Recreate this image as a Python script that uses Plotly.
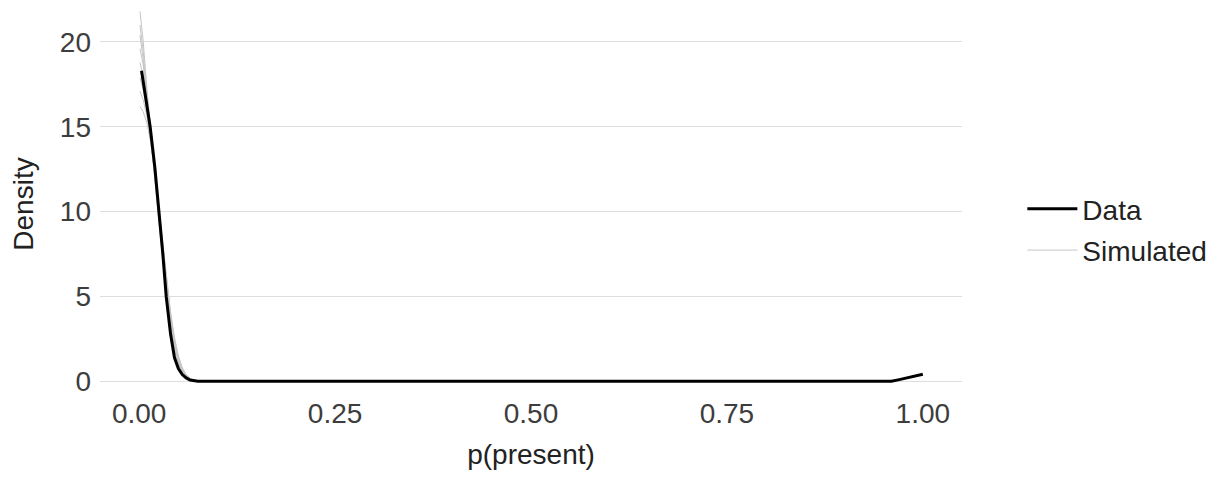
import plotly.graph_objects as go

# Observed data density
data_x = [0.003, 0.008, 0.014, 0.02, 0.0256, 0.03, 0.0345, 0.04, 0.045, 0.05, 0.055, 0.06,
          0.065, 0.07, 0.075, 0.08, 0.2, 0.4, 0.6, 0.8, 0.96, 0.97, 0.98, 0.99, 1.0]
data_y = [18.3, 16.8, 15.0, 12.6, 10.0, 7.6, 5.0, 2.8, 1.4, 0.75, 0.4, 0.2,
          0.08, 0.03, 0.01, 0.0, 0.0, 0.0, 0.0, 0.0, 0.0, 0.1, 0.22, 0.33, 0.42]

# Simulated densities
sim_x = [0.001, 0.005, 0.01, 0.015, 0.02, 0.025, 0.03, 0.035, 0.04, 0.045, 0.05, 0.055,
         0.06, 0.065, 0.07, 0.075, 0.08, 0.09]
sim1 = [21.8, 20.1, 17.2, 14.6, 12.1, 9.6, 7.3, 5.1, 3.2, 1.9, 1.0, 0.5, 0.22, 0.09, 0.03, 0.01, 0.0, 0.0]
sim2 = [19.6, 18.7, 16.9, 14.8, 12.4, 10.0, 7.6, 5.4, 3.5, 2.1, 1.15, 0.6, 0.28, 0.12, 0.05, 0.02, 0.01, 0.0]
sim3 = [17.9, 17.2, 15.9, 14.2, 12.2, 10.1, 7.9, 5.8, 3.9, 2.4, 1.35, 0.7, 0.33, 0.15, 0.06, 0.02, 0.01, 0.0]
sim4 = [20.4, 19.0, 16.6, 14.1, 11.8, 9.5, 7.2, 5.2, 3.4, 2.0, 1.1, 0.55, 0.25, 0.1, 0.04, 0.01, 0.0, 0.0]
sim5 = [16.2, 15.9, 15.2, 14.0, 12.3, 10.3, 8.1, 6.0, 4.1, 2.6, 1.5, 0.8, 0.4, 0.18, 0.07, 0.03, 0.01, 0.0]
sim6 = [18.8, 18.0, 16.4, 14.4, 12.2, 9.9, 7.6, 5.5, 3.6, 2.2, 1.25, 0.65, 0.3, 0.13, 0.05, 0.02, 0.0, 0.0]
sim7 = [21.0, 19.5, 16.8, 14.3, 11.9, 9.6, 7.4, 5.3, 3.5, 2.1, 1.2, 0.6, 0.27, 0.11, 0.04, 0.01, 0.0, 0.0]
sim8 = [17.1, 16.6, 15.6, 14.1, 12.3, 10.2, 8.0, 5.9, 4.0, 2.5, 1.45, 0.78, 0.38, 0.17, 0.07, 0.03, 0.01, 0.0]
sims = [sim1, sim2, sim3, sim4, sim5, sim6, sim7, sim8]

x_ticks = [0.0, 0.25, 0.5, 0.75, 1.0]
x_tick_labels = ["0.00", "0.25", "0.50", "0.75", "1.00"]
y_ticks = [0, 5, 10, 15, 20]

SIM_COLOR = "#c6c6c6"
FONT = "Liberation Sans, Arial, sans-serif"
FS = 28

fig = go.Figure()
for i, s in enumerate(sims):
    fig.add_trace(go.Scatter(
        x=sim_x, y=s, mode="lines", name="Simulated",
        line=dict(color=SIM_COLOR, width=1),
        legendgroup="sim", showlegend=(i == 0), legendrank=2,
    ))
fig.add_trace(go.Scatter(
    x=data_x, y=data_y, mode="lines", name="Data",
    line=dict(color="black", width=3),
    legendgroup="data", legendrank=1,
))

fig.update_layout(
    width=1212, height=469,
    plot_bgcolor="white", paper_bgcolor="white",
    margin=dict(l=92, r=258, t=0, b=77),
    font=dict(family=FONT, size=FS, color="#222222"),
    legend=dict(
        x=1.07, y=0.435, xanchor="left", yanchor="middle",
        font=dict(size=FS, color="#222222"),
        tracegroupgap=2, itemwidth=50, bgcolor="rgba(0,0,0,0)",
    ),
    xaxis=dict(
        range=[-0.05, 1.05], tickvals=x_ticks, ticktext=x_tick_labels,
        showgrid=False, zeroline=False, showline=False, ticks="",
        automargin=False, ticklabelstandoff=-6,
        title=dict(text="p(present)", font=dict(size=FS, color="#222222"), standoff=16),
        tickfont=dict(size=FS, color="#3d3d3d"),
    ),
    yaxis=dict(
        range=[-1.1, 22.0], tickvals=y_ticks,
        showgrid=True, gridcolor="#dedede", gridwidth=1,
        zeroline=False, showline=False, ticks="",
        automargin=False, ticklabelstandoff=8,
        title=dict(text="Density", font=dict(size=FS, color="#222222"), standoff=20),
        tickfont=dict(size=FS, color="#3d3d3d"),
    ),
)

fig.write_html("out.html")
